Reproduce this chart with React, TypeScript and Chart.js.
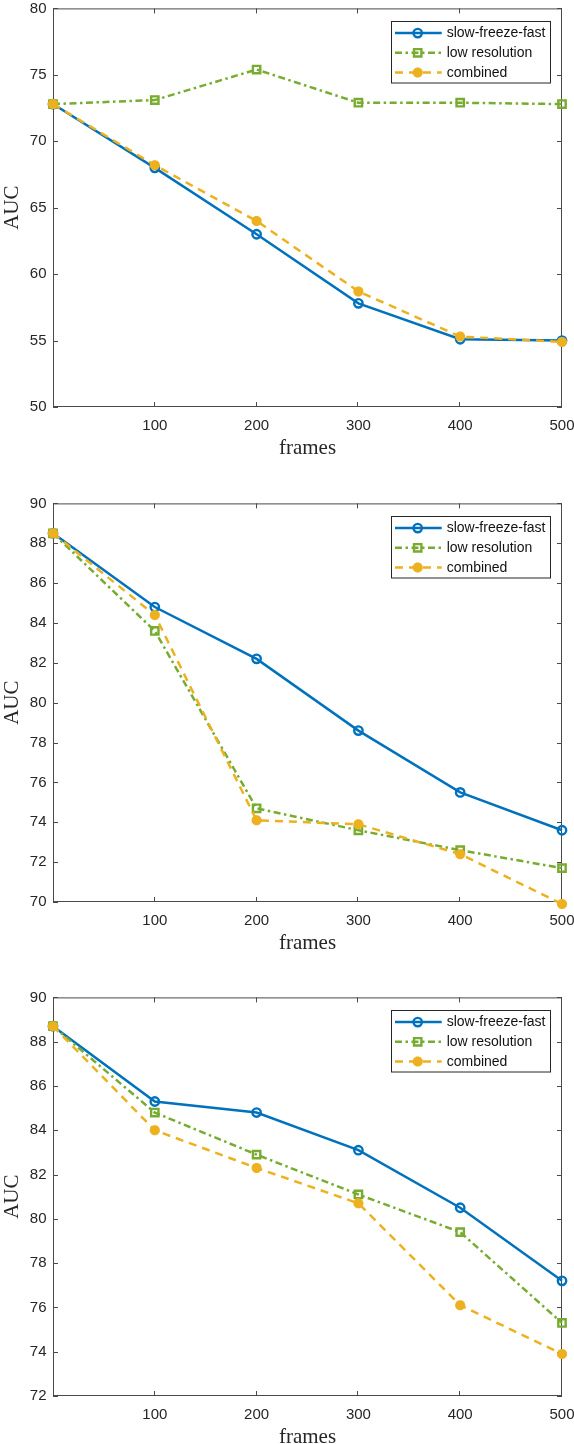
import React, { useEffect, useRef } from 'react';
import { Chart, registerables } from 'chart.js';

Chart.register(...registerables);

// ---------- data ----------
const frames = [0, 100, 200, 300, 400, 500];
const xTickValues = [100, 200, 300, 400, 500];
const seriesNames = ['slow-freeze-fast', 'low resolution', 'combined'];
const xTitle = 'frames';
const yTitle = 'AUC';

const p1SlowFreezeFast = [72.8, 68.0, 63.0, 57.8, 55.1, 55.0];
const p1LowResolution = [72.8, 73.1, 75.4, 72.9, 72.9, 72.8];
const p1Combined = [72.8, 68.2, 64.0, 58.7, 55.3, 54.9];
const p1YTicks = [50, 55, 60, 65, 70, 75, 80];

const p2SlowFreezeFast = [88.5, 84.8, 82.2, 78.6, 75.5, 73.6];
const p2LowResolution = [88.5, 83.6, 74.7, 73.6, 72.6, 71.7];
const p2Combined = [88.5, 84.4, 74.1, 73.9, 72.4, 69.9];
const p2YTicks = [70, 72, 74, 76, 78, 80, 82, 84, 86, 88, 90];

const p3SlowFreezeFast = [88.7, 85.3, 84.8, 83.1, 80.5, 77.2];
const p3LowResolution = [88.7, 84.8, 82.9, 81.1, 79.4, 75.3];
const p3Combined = [88.7, 84.0, 82.3, 80.7, 76.1, 73.9];
const p3YTicks = [72, 74, 76, 78, 80, 82, 84, 86, 88, 90];

// ---------- styles ----------
const AXIS_COLOR = '#262626';
const FRAME_COLOR = '#4a4a4a';
const TICK_FONT = '"Liberation Sans", Arial, sans-serif';
const TITLE_FONT = '"Liberation Serif", "Times New Roman", serif';

const seriesStyles = [
  { color: '#0072BD', dash: [] as number[], pointStyle: 'circle', radius: 4.2, lineWidth: 2.5, pointWidth: 2.4, order: 3 },
  { color: '#77AC30', dash: [7, 3.5, 2.5, 3.5], pointStyle: 'rect', radius: 5.2, lineWidth: 2.5, pointWidth: 2.4, order: 2 },
  { color: '#EDB120', dash: [8, 6], pointStyle: 'star', radius: 5, lineWidth: 2.5, pointWidth: 3.4, order: 1 },
];

const CANVAS_W = 574;
const CANVAS_H = 470;
const PANEL_STEP = 494.7;

function drawMarker(ctx: CanvasRenderingContext2D, style: string, x: number, y: number, r: number) {
  ctx.beginPath();
  if (style === 'circle') {
    ctx.arc(x, y, r, 0, Math.PI * 2);
  } else if (style === 'rect') {
    const s = r * Math.SQRT1_2;
    ctx.rect(x - s, y - s, 2 * s, 2 * s);
  } else if (style === 'star') {
    for (let k = 0; k < 4; k++) {
      const a = (k * Math.PI) / 4;
      ctx.moveTo(x + Math.cos(a) * r, y + Math.sin(a) * r);
      ctx.lineTo(x - Math.cos(a) * r, y - Math.sin(a) * r);
    }
  }
  ctx.stroke();
}

const framePlugin = {
  id: 'matlabFrame',
  beforeDatasetsDraw(chart: any) {
    const { ctx, chartArea } = chart;
    const { left, right, top, bottom } = chartArea;
    const xs = chart.scales.x;
    const ys = chart.scales.y;
    ctx.save();
    ctx.strokeStyle = FRAME_COLOR;
    ctx.lineWidth = 1;
    ctx.strokeRect(left + 0.5, top + 0.5, right - left - 1, bottom - top - 1);
    ctx.beginPath();
    const tl = 5;
    xs.ticks.forEach((t: any) => {
      const px = Math.round(xs.getPixelForValue(t.value)) - 0.5;
      ctx.moveTo(px, bottom);
      ctx.lineTo(px, bottom - tl);
      ctx.moveTo(px, top);
      ctx.lineTo(px, top + tl);
    });
    ys.ticks.forEach((t: any) => {
      const py = Math.round(ys.getPixelForValue(t.value)) + 0.5;
      ctx.moveTo(left, py);
      ctx.lineTo(left + tl, py);
      ctx.moveTo(right, py);
      ctx.lineTo(right - tl, py);
    });
    ctx.stroke();
    ctx.restore();
  },
  afterDraw(chart: any) {
    const { ctx, chartArea } = chart;
    const { left, right, top, bottom } = chartArea;
    ctx.save();
    // axis titles
    ctx.fillStyle = AXIS_COLOR;
    ctx.font = `21px ${TITLE_FONT}`;
    ctx.textAlign = 'center';
    ctx.textBaseline = 'alphabetic';
    ctx.fillText(xTitle, (left + right) / 2, bottom + 47);
    ctx.save();
    ctx.translate(18, (top + bottom) / 2);
    ctx.rotate(-Math.PI / 2);
    ctx.fillText(yTitle, 0, 0);
    ctx.restore();

    // legend
    const boxW = 159;
    const boxH = 61.5;
    const boxRight = right - 12;
    const boxLeft = boxRight - boxW;
    const boxTop = top + 12.3;
    ctx.fillStyle = '#ffffff';
    ctx.fillRect(boxLeft, boxTop, boxW, boxH);
    ctx.strokeStyle = AXIS_COLOR;
    ctx.lineWidth = 1;
    ctx.strokeRect(Math.round(boxLeft) + 0.5, Math.round(boxTop) + 0.5, boxW, boxH);
    chart.data.datasets.forEach((ds: any, i: number) => {
      const st = seriesStyles[i];
      const y = boxTop + 12.4 + i * 19.7;
      ctx.strokeStyle = st.color;
      ctx.lineWidth = st.lineWidth;
      ctx.setLineDash(st.dash);
      ctx.beginPath();
      ctx.moveTo(boxLeft + 4, y);
      ctx.lineTo(boxLeft + 50.7, y);
      ctx.stroke();
      ctx.setLineDash([]);
      ctx.lineWidth = st.pointWidth;
      drawMarker(ctx, st.pointStyle, boxLeft + 26.7, y, st.radius);
      ctx.fillStyle = '#111111';
      ctx.font = `14px ${TICK_FONT}`;
      ctx.textAlign = 'left';
      ctx.textBaseline = 'middle';
      ctx.fillText(ds.label, boxLeft + 55.7, y + 0.5);
    });
    ctx.restore();
  },
};

function Panel({ series, yTicks, top }: { series: number[][]; yTicks: number[]; top: number }) {
  const ref = useRef<HTMLCanvasElement | null>(null);
  useEffect(() => {
    if (!ref.current) return;
    const chart = new Chart(ref.current, {
      type: 'line',
      data: {
        labels: frames,
        datasets: series.map((vals, i) => {
          const st = seriesStyles[i];
          return {
            label: seriesNames[i],
            data: frames.map((f, j) => ({ x: f, y: vals[j] })),
            borderColor: st.color,
            borderWidth: st.lineWidth,
            borderDash: st.dash,
            pointStyle: st.pointStyle as any,
            pointRadius: st.radius,
            pointBorderColor: st.color,
            pointBorderWidth: st.pointWidth,
            pointBackgroundColor: 'rgba(0,0,0,0)',
            pointHoverRadius: st.radius,
            tension: 0,
            fill: false,
            clip: false as any,
            order: st.order,
          };
        }),
      },
      options: {
        animation: false,
        responsive: false,
        events: [],
        layout: { padding: { top: 7, right: 12, bottom: 0, left: 0 } },
        plugins: { legend: { display: false }, tooltip: { enabled: false } },
        scales: {
          x: {
            type: 'linear',
            min: 0,
            max: 500,
            grid: { display: false, drawTicks: false },
            border: { display: false },
            ticks: {
              color: AXIS_COLOR,
              font: { family: TICK_FONT, size: 15 },
              padding: 10,
              maxRotation: 0,
              autoSkip: false,
            },
            afterBuildTicks: (scale: any) => {
              scale.ticks = xTickValues.map((v) => ({ value: v }));
            },
            afterFit: (scale: any) => {
              scale.height = 63;
              scale.paddingLeft = 0;
              scale.paddingRight = 0;
            },
          },
          y: {
            type: 'linear',
            min: yTicks[0],
            max: yTicks[yTicks.length - 1],
            grid: { display: false, drawTicks: false },
            border: { display: false },
            ticks: {
              color: AXIS_COLOR,
              font: { family: TICK_FONT, size: 15 },
              padding: 6.5,
              autoSkip: false,
            },
            afterBuildTicks: (scale: any) => {
              scale.ticks = yTicks.map((v) => ({ value: v }));
            },
            afterFit: (scale: any) => {
              scale.width = 53;
              scale.paddingTop = 0;
              scale.paddingBottom = 0;
            },
          },
        },
      },
      plugins: [framePlugin],
    });
    return () => chart.destroy();
  }, []);
  return (
    <canvas
      ref={ref}
      width={CANVAS_W}
      height={CANVAS_H}
      style={{ position: 'absolute', left: 0, top, width: CANVAS_W, height: CANVAS_H, display: 'block' }}
    />
  );
}

export default function App() {
  return (
    <div
      style={{
        position: 'absolute',
        left: 0,
        top: 0,
        width: CANVAS_W,
        height: 1444,
        overflow: 'hidden',
        background: '#ffffff',
      }}
    >
      <Panel series={[p1SlowFreezeFast, p1LowResolution, p1Combined]} yTicks={p1YTicks} top={0} />
      <Panel series={[p2SlowFreezeFast, p2LowResolution, p2Combined]} yTicks={p2YTicks} top={PANEL_STEP} />
      <Panel series={[p3SlowFreezeFast, p3LowResolution, p3Combined]} yTicks={p3YTicks} top={PANEL_STEP * 2} />
    </div>
  );
}
